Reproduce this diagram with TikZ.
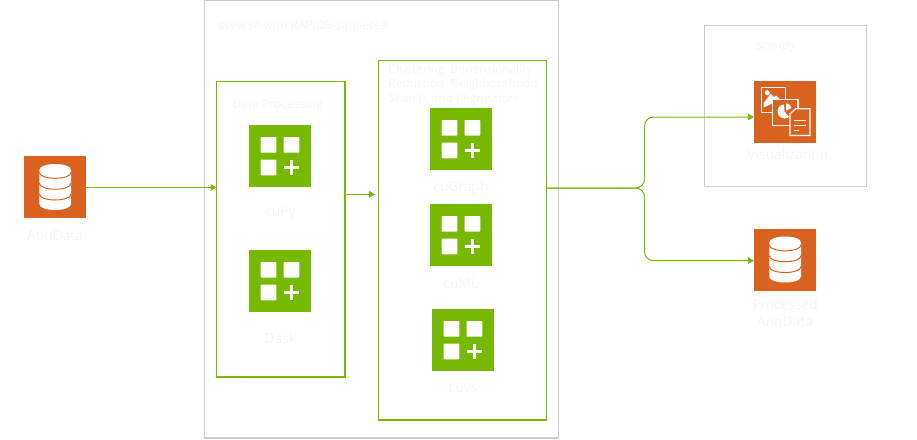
\documentclass[tikz,border=0pt]{standalone}
\usepackage{fontspec}
\setmainfont{Open Sans}
\usetikzlibrary{arrows.meta}
\definecolor{nvgreen}{HTML}{76B900}
\definecolor{boxgray}{HTML}{CCCCCC}
\definecolor{nvorange}{HTML}{D96221}
\definecolor{paletext}{HTML}{F2F6F5}
\tikzset{
  x=1pt,y=-1pt,
  graybox/.style={draw=boxgray,line width=1.1pt},
  greenbox/.style={draw=nvgreen,line width=1.2pt},
  tile/.style={minimum size=62pt,inner sep=0pt,outer sep=0pt,anchor=north west},
  greentile/.style={tile,fill=nvgreen},
  orangetile/.style={tile,fill=nvorange},
  lbl/.style={text=paletext,inner sep=0pt},
  headlbl/.style={lbl,font=\fontsize{12.1pt}{14.5pt}\selectfont,anchor=west,align=left},
  wraplbl/.style={lbl,font=\fontsize{11.8pt}{14.5pt}\selectfont,anchor=west,align=left},
  caplbl/.style={lbl,font=\fontsize{13.8pt}{17.5pt}\selectfont,anchor=center,align=center},
  flow/.style={draw=nvgreen,line width=1pt,rounded corners=9pt},
  tip/.style={-{Triangle[length=6pt,width=6.5pt,fill=nvgreen]}},
  pics/plusgrid/.style={code={
    \fill[white,rounded corners=0.6pt] (11.7,12) rectangle (27.3,27.7);
    \fill[white,rounded corners=0.6pt] (34.7,12) rectangle (50.3,27.7);
    \fill[white,rounded corners=0.6pt] (11.7,34.7) rectangle (27.3,50.3);
    \fill[white] (34.5,40.6) rectangle (50.3,44.2);
    \fill[white] (40.6,34.5) rectangle (44.2,50.3);
  }},
  pics/dbicon/.style={code={
    \fill[white] (15.3,14) .. controls (15.3,6) and (47,6) .. (47,14)
      -- (47,48) .. controls (47,56) and (15.3,56) .. (15.3,48) -- cycle;
    \foreach \yy in {16.3,27.2,38}{
      \draw[nvorange,line width=1pt] (15.3,\yy) .. controls (15.3,\yy+8) and (47,\yy+8) .. (47,\yy);
    }
  }},
  pics/vizicon/.style={code={
    % picture sheet
    \draw[white,line width=1.2pt] (7.5,7) rectangle (31.7,31.7);
    \fill[white] (9.7,27) -- (9.7,22.3) -- (16.7,13.3) -- (20,16.7) -- (22,15) -- (29.8,22) -- (20,22) -- cycle;
    \fill[white] (13.3,12.3) circle (2.5);
    % chart sheet
    \fill[nvorange] (18.3,19) rectangle (44,45);
    \draw[white,line width=1.2pt] (18.3,19) rectangle (44,45);
    \fill[white] (30,24) .. controls (25.5,24) and (23.5,28) .. (23.5,31)
      .. controls (23.5,35) and (27,38) .. (30.5,38)
      .. controls (32,38) and (33.5,37.5) .. (35,36.5) -- (30.5,31) -- cycle;
    \fill[white] (32,22.7) .. controls (35,22.7) and (37,25) .. (37.5,27.5) -- (32,30) -- cycle;
    % document sheet
    \fill[nvorange] (41.7,28.3) -- (56,28.3) -- (56,55) -- (36,55) -- (36,33.3) -- cycle;
    \draw[white,line width=1.2pt] (41.7,28.3) -- (56,28.3) -- (56,55) -- (36,55) -- (36,33.3) -- cycle;
    \draw[white,line width=1.1pt] (39.5,40.3) -- (51.7,40.3) (39.5,45.2) -- (51.7,45.2) (39.5,49.7) -- (45,49.7);
  }}
}
\begin{document}
\begin{tikzpicture}
\useasboundingbox (0,0) rectangle (917,439);
\fill[white] (0,0) rectangle (917,439);
% containers
\node[graybox,anchor=north west,minimum width=354pt,minimum height=437.5pt,inner sep=0pt,outer sep=0pt] (outer) at (204.5,0.5) {};
\node[greenbox,anchor=north west,minimum width=128.5pt,minimum height=295.5pt,inner sep=0pt,outer sep=0pt] (proc) at (216.5,81.5) {};
\node[greenbox,anchor=north west,minimum width=168pt,minimum height=359.5pt,inner sep=0pt,outer sep=0pt] (algo) at (378.5,60.5) {};
\node[graybox,anchor=north west,minimum width=162pt,minimum height=161pt,inner sep=0pt,outer sep=0pt] (scan) at (704.5,25.5) {};
% tiles
\node[orangetile] (ann) at (24,156) {};
\pic at (24,156) {dbicon};
\node[greentile] (cupy) at (249,125) {};
\pic at (249,125) {plusgrid};
\node[greentile] (dask) at (249,250) {};
\pic at (249,250) {plusgrid};
\node[greentile] (cugraph) at (430,108) {};
\pic at (430,108) {plusgrid};
\node[greentile] (cuml) at (430,204) {};
\pic at (430,204) {plusgrid};
\node[greentile] (cuvs) at (432,309) {};
\pic at (432,309) {plusgrid};
\node[orangetile] (viz) at (754,80.5) {};
\pic at (754,80.5) {vizicon};
\node[orangetile] (pann) at (754,228.5) {};
\pic at (754,228.5) {dbicon};
% labels
\node[headlbl] (t1) at (218.3,26) {scverse with RAPIDS-singlecell};
\node[headlbl] (t2) at (232.3,106) {Data Processing};
\node[wraplbl] (t3) at (388.5,84.5) {Clustering, Dimensionality\\Reduction, Neighbourhood\\Search, and Regression};
\node[caplbl] (t4) at (280.5,213) {cuPy};
\node[caplbl] (t5) at (280.5,338) {Dask};
\node[caplbl] (t6) at (461,188) {cuGraph};
\node[caplbl] (t7) at (461,284) {cuML};
\node[caplbl] (t8) at (463,389) {cuvs};
\node[caplbl] (t9) at (55,236) {AnnData};
\node[headlbl,anchor=center] (t10) at (775.7,48) {scanpy};
\node[caplbl] (t11) at (787.7,154.5) {Visualization};
\node[caplbl] (t12) at (785,313) {Processed\\AnnData};
% connectors
\coordinate (j) at (644.5,188);
\coordinate (vizin) at (754,117);
\coordinate (pannin) at (754,260.7);
\coordinate (algoin) at (375,194.3);
\draw[flow,tip] (ann.east |- 0,187.5) -- (proc.west |- 0,187.5);
\draw[flow,tip] (proc.east |- algoin) -- (algoin);
\draw[flow,tip] (algo.east |- j) -- (j) -- (j |- vizin) -- (vizin);
\draw[flow,tip] (algo.east |- j) -- (j) -- (j |- pannin) -- (pannin);
\end{tikzpicture}
\end{document}
